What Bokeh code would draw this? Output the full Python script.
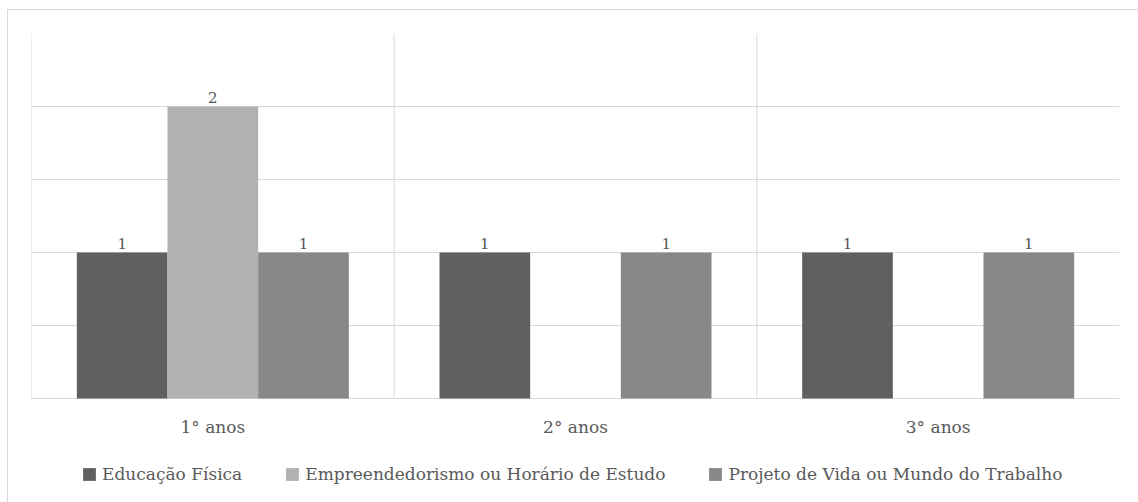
from bokeh.plotting import figure
from bokeh.models import (ColumnDataSource, Range1d, FixedTicker, Legend, LegendItem,
                          InlineStyleSheet)
from bokeh.core.properties import value
from bokeh.embed import file_html
from bokeh.resources import INLINE

categories = ["1° anos", "2° anos", "3° anos"]
series_names = ["Educação Física", "Empreendedorismo ou Horário de Estudo",
                "Projeto de Vida ou Mundo do Trabalho"]
educacao = [1, 1, 1]
empreend = [2, 0, 0]
projeto = [1, 1, 1]
colors = ["#606060", "#b1b1b1", "#888888"]

FONT = "DejaVu Serif"
TXT = "#595959"
GRID = "#d9d9d9"
FS = "17px"

YMAX = 2.5
# frame runs from y=33 px (2.5) to the bottom of the page; 146 px per unit
YMIN = -(502 - 398) / 146.0

p = figure(width=1138, height=502, output_backend="svg", toolbar_location=None,
           x_range=Range1d(-0.5, len(categories) - 0.5), y_range=Range1d(YMIN, YMAX),
           min_border_left=31, min_border_right=19, min_border_top=33,
           min_border_bottom=0)
p.outline_line_color = None
p.xaxis.visible = False
p.yaxis.visible = False
p.ygrid.ticker = FixedTicker(ticks=[0.0, 0.5, 1.0, 1.5, 2.0, 2.5])
p.ygrid.grid_line_color = GRID
p.xgrid.grid_line_color = None

n = len(categories)
xs = list(range(n))

# category separators (between categories) from 0 to top
bounds = [i - 0.5 for i in range(n)]
p.segment(x0=bounds, x1=bounds, y0=[0] * n, y1=[YMAX] * n, line_color=GRID, line_width=1)

# category labels
p.text(x=xs, y=[0] * n, text=categories, text_align="center", text_baseline="middle",
       y_offset=28, text_font=value(FONT), text_font_size=FS, text_color=TXT)

bw = 0.25
items = []
for k, (vals, name, col) in enumerate(zip([educacao, empreend, projeto], series_names, colors)):
    off = (k - 1) * bw
    src = ColumnDataSource(dict(x=[x + off for x in xs], top=vals,
                                lab=[str(v) if v else "" for v in vals]))
    r = p.vbar(x="x", top="top", width=bw, source=src, fill_color=col, line_color=None)
    p.text(x="x", y="top", text="lab", source=src, text_align="center",
           text_baseline="bottom", y_offset=-4, text_font=value(FONT),
           text_font_size="15px", text_color=TXT)
    items.append(LegendItem(label=name, renderers=[r]))

leg = Legend(items=items, orientation="horizontal", location=(50, 18),
             glyph_width=16, glyph_height=16, label_standoff=5, spacing=42,
             padding=0, margin=0, border_line_color=None, background_fill_alpha=0,
             label_text_font=FONT, label_text_font_size=FS, label_text_color=TXT,
             label_height=16)
p.add_layout(leg, "center")

p.stylesheets = [InlineStyleSheet(css=""":host { position: relative; }
:host::after { content: ''; position: absolute; left: 7px; top: 9px; right: -3px; bottom: -3px;
  border: 1px solid #d9d9d9; pointer-events: none; }""")]

open("out.html", "w").write(file_html(p, INLINE))
